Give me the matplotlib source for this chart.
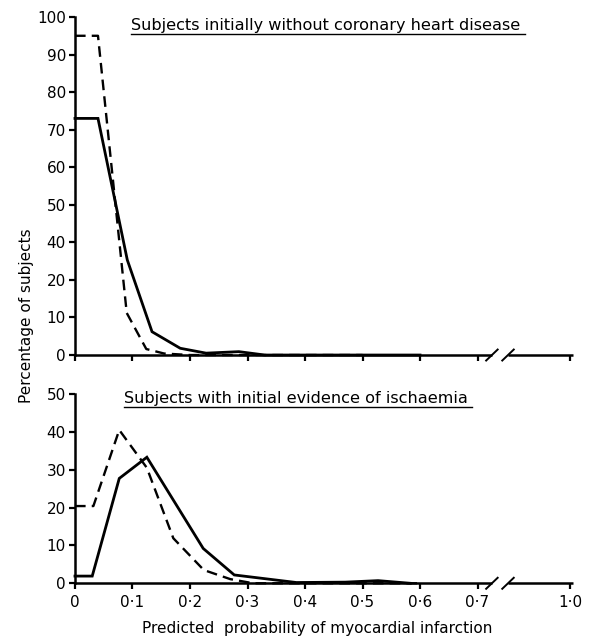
import matplotlib
matplotlib.use("Agg")
import matplotlib.pyplot as plt
import matplotlib.transforms as mtransforms
import numpy as np

# ==========================================================
# DATA  (y in axis units, 10 per tick)
# ==========================================================

# top panel: subjects initially without coronary heart disease
top_solid_x = [0.0, 0.040, 0.091, 0.134, 0.183, 0.228, 0.285, 0.330, 0.600]
top_solid_y = [63.0, 63.0, 25.3, 6.2, 1.8, 0.5, 0.9, 0.0, 0.0]

top_dash_x = [0.0, 0.040, 0.090, 0.124, 0.155, 0.200, 0.500]
top_dash_y = [85.0, 85.0, 11.2, 1.6, 0.4, 0.0, 0.0]

# bottom panel: subjects with initial evidence of ischaemia
bot_solid_x = [0.0, 0.030, 0.077, 0.125, 0.223, 0.277, 0.385, 0.470, 0.527, 0.583]
bot_solid_y = [1.9, 1.9, 27.7, 33.3, 9.2, 2.2, 0.2, 0.3, 0.7, 0.0]

bot_dash_x = [0.0, 0.032, 0.077, 0.125, 0.171, 0.224, 0.270, 0.310, 0.600]
bot_dash_y = [20.4, 20.4, 40.5, 30.5, 11.9, 3.5, 1.1, 0.0, 0.0]

# tick labels as printed (the top scale skips "30" in the original)
top_ylabels = ["0", "10", "20", "40", "50", "60", "70", "80", "90", "100"]
bot_ylabels = ["0", "10", "20", "30", "40", "50"]

x_ticks = [0.0, 0.1, 0.2, 0.3, 0.4, 0.5, 0.6, 0.7, 0.861]
x_labels = ["0", "0\u00b71", "0\u00b72", "0\u00b73", "0\u00b74",
            "0\u00b75", "0\u00b76", "0\u00b77", "1\u00b70"]

# axis break (in plotted x units)
break_left = 0.725
break_right = 0.753
x_max = 0.866

# ==========================================================
# PLOT
# ==========================================================

plt.rcParams.update({
    "font.family": "DejaVu Sans",
    "font.size": 10.5
})

W, H = 596, 639
fig = plt.figure(figsize=(W / 100, H / 100), dpi=100)

ax_top = fig.add_axes([0.1258, 0.4444, 0.8356, 0.5290])
ax_bot = fig.add_axes([0.1258, 0.0872, 0.8356, 0.2962])

lw_line = 2.0
lw_axis = 1.8
dash = (0, (4.5, 2.6))

ax_top.plot(top_solid_x, top_solid_y, color="black", lw=lw_line,
            solid_joinstyle="miter", clip_on=False)
ax_top.plot(top_dash_x, top_dash_y, color="black", lw=1.7, linestyle=dash,
            clip_on=False)

ax_bot.plot(bot_solid_x, bot_solid_y, color="black", lw=lw_line,
            solid_joinstyle="miter", clip_on=False)
ax_bot.plot(bot_dash_x, bot_dash_y, color="black", lw=1.7, linestyle=dash,
            clip_on=False)

# ==========================================================
# FORMAT
# ==========================================================

for ax, ytop, ylabels in [(ax_top, 90, top_ylabels), (ax_bot, 50, bot_ylabels)]:

    ax.set_xlim(0, x_max)
    ax.set_ylim(0, ytop)

    ax.set_yticks(np.arange(0, ytop + 1, 10))
    ax.set_yticklabels(ylabels)

    ax.set_xticks(x_ticks)

    for side in ["top", "right", "bottom"]:
        ax.spines[side].set_visible(False)
    ax.spines["left"].set_linewidth(lw_axis)

    ax.tick_params(axis="both", direction="out", length=4.5, width=1.6,
                   pad=2, labelsize=11)

    # broken x axis
    trans = mtransforms.blended_transform_factory(ax.transData, ax.transAxes)
    ax.plot([0, break_left], [0, 0], color="black", lw=lw_axis,
            transform=trans, clip_on=False, solid_capstyle="butt")
    ax.plot([break_right, x_max], [0, 0], color="black", lw=lw_axis,
            transform=trans, clip_on=False, solid_capstyle="butt")

    ax_h_px = ax.get_position().height * H
    dy = 5.5 / ax_h_px
    dx = 0.010
    for xb in [break_left, break_right]:
        ax.plot([xb - dx, xb + dx], [-dy, dy], color="black", lw=1.4,
                transform=trans, clip_on=False)

ax_top.set_xticklabels([])
ax_bot.set_xticklabels(x_labels)
ax_bot.tick_params(axis="x", pad=4)

# ==========================================================
# TEXT
# ==========================================================

fig.text(27 / W, 1 - 316 / H, "Percentage of subjects", rotation=90,
         ha="center", va="center", fontsize=11)

fig.text(317 / W, 1 - 628 / H, "Predicted  probability of myocardial infarction",
         ha="center", va="center", fontsize=11)

titles = [
    (326 / W, 1 - 30 / H, "Subjects initially without coronary heart disease"),
    (296 / W, 1 - 403 / H, "Subjects with initial evidence of ischaemia"),
]

renderer = fig.canvas.get_renderer()

for tx, ty, label in titles:

    t = fig.text(tx, ty, label, ha="center", va="baseline", fontsize=11.6)

    bb = t.get_window_extent(renderer=renderer)
    y_line = ty - 3.5 / H
    fig.add_artist(plt.Line2D([bb.x0 / W, bb.x1 / W + 4 / W], [y_line, y_line],
                              color="black", lw=1.0,
                              transform=fig.transFigure))

plt.savefig("out.png", dpi=100)
